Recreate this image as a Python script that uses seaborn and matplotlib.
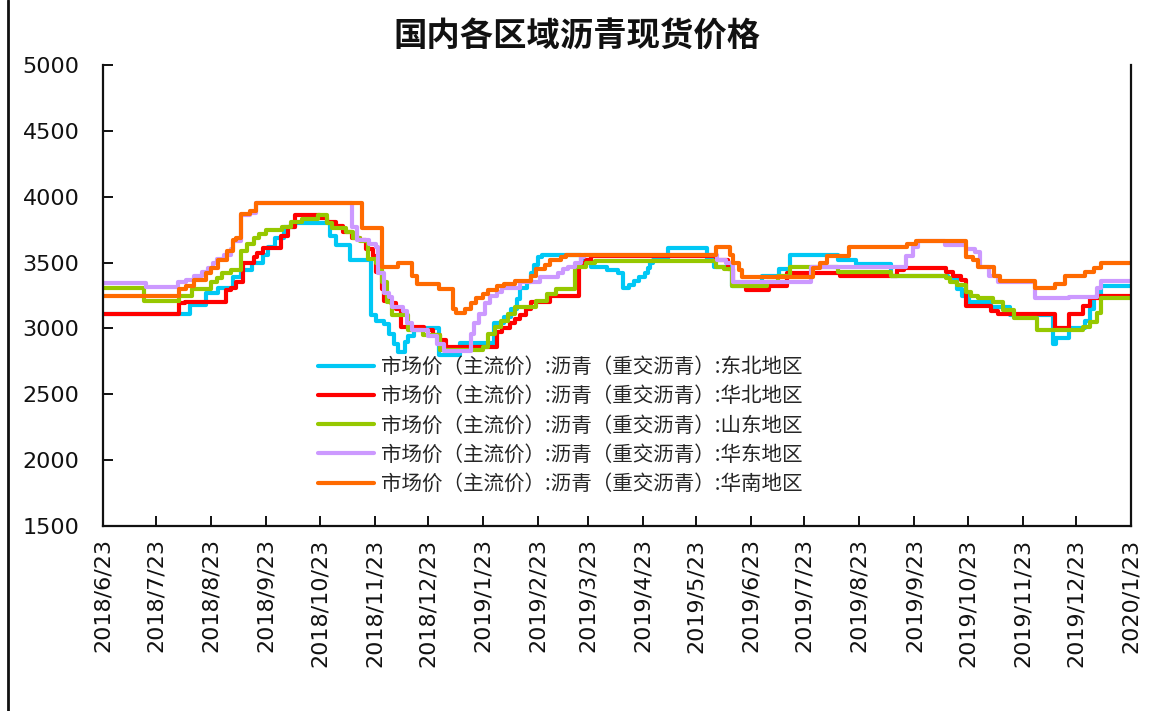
import matplotlib
matplotlib.use("Agg")
import matplotlib.pyplot as plt
import matplotlib.dates as mdates
from matplotlib.ticker import FuncFormatter
from matplotlib.lines import Line2D
import pandas as pd
import seaborn as sns

# ---------------- data ----------------
TITLE = "国内各区域沥青现货价格"
LABEL_PREFIX = "市场价（主流价）:沥青（重交沥青）:"
REGIONS = ["东北地区", "华北地区", "山东地区", "华东地区", "华南地区"]
COLORS = ["#00C8F5", "#FF0000", "#96C800", "#CC99FF", "#FF6A00"]
START_DATE = "2018-06-23"
END_DATE = "2020-01-23"
Y_TICKS = [1500, 2000, 2500, 3000, 3500, 4000, 4500, 5000]

# price change dates and the price from that date on (yuan/ton)
ne_dates = ["2018-06-23", "2018-08-11", "2018-08-20", "2018-08-27", "2018-09-04", "2018-09-09",
            "2018-09-15", "2018-09-21", "2018-09-24", "2018-09-28", "2018-10-03", "2018-10-09",
            "2018-10-29", "2018-11-01", "2018-11-09", "2018-11-21", "2018-11-24", "2018-11-28",
            "2018-12-01", "2018-12-04", "2018-12-06", "2018-12-10", "2018-12-12", "2018-12-15",
            "2018-12-29", "2019-01-10", "2019-01-29", "2019-02-04", "2019-02-08", "2019-02-11",
            "2019-02-13", "2019-02-17", "2019-02-19", "2019-02-21", "2019-02-23", "2019-02-25",
            "2019-03-19", "2019-03-25", "2019-04-03", "2019-04-09", "2019-04-12", "2019-04-15",
            "2019-04-18", "2019-04-21", "2019-04-24", "2019-04-26", "2019-04-27", "2019-04-29",
            "2019-05-07", "2019-05-29", "2019-06-02", "2019-06-12", "2019-06-29", "2019-07-09",
            "2019-07-15", "2019-08-11", "2019-08-21", "2019-09-10", "2019-10-12", "2019-10-17",
            "2019-10-20", "2019-10-24", "2019-11-05", "2019-11-16", "2019-12-10", "2019-12-12",
            "2019-12-19", "2019-12-28", "2019-12-31", "2020-01-02", "2020-01-06"]
ne_prices = [3110, 3180, 3270, 3310, 3390, 3440,
             3500, 3560, 3620, 3690, 3770, 3800,
             3700, 3630, 3520, 3100, 3060, 3030,
             2960, 2880, 2820, 2900, 2940, 3000,
             2800, 2890, 3040, 3090, 3150, 3220,
             3310, 3350, 3420, 3480, 3540, 3560,
             3520, 3470, 3440, 3420, 3310, 3330,
             3360, 3390, 3420, 3460, 3500, 3520,
             3610, 3530, 3470, 3320, 3400, 3450,
             3560, 3520, 3490, 3400, 3380, 3300,
             3250, 3200, 3160, 3100, 2880, 2930,
             3000, 3060, 3150, 3240, 3320]

nc_dates = ["2018-06-23", "2018-08-05", "2018-08-08", "2018-08-31", "2018-09-03", "2018-09-06",
            "2018-09-10", "2018-09-16", "2018-09-18", "2018-09-21", "2018-10-01", "2018-10-05",
            "2018-10-09", "2018-10-23", "2018-10-27", "2018-11-01", "2018-11-05", "2018-11-10",
            "2018-11-15", "2018-11-18", "2018-11-22", "2018-11-24", "2018-11-27", "2018-11-28",
            "2018-12-02", "2018-12-05", "2018-12-08", "2018-12-21", "2018-12-26", "2018-12-30",
            "2019-01-02", "2019-01-31", "2019-02-03", "2019-02-07", "2019-02-10", "2019-02-13",
            "2019-02-16", "2019-02-19", "2019-03-02", "2019-03-18", "2019-03-22", "2019-03-25",
            "2019-06-03", "2019-06-10", "2019-06-13", "2019-06-20", "2019-07-03", "2019-07-13",
            "2019-08-12", "2019-09-13", "2019-09-17", "2019-10-11", "2019-10-15", "2019-10-19",
            "2019-10-22", "2019-11-05", "2019-11-09", "2019-12-11", "2019-12-19", "2019-12-27",
            "2019-12-31", "2020-01-05"]
nc_prices = [3110, 3190, 3200, 3290, 3310, 3350,
             3500, 3540, 3570, 3610, 3700, 3770,
             3860, 3840, 3810, 3780, 3730, 3690,
             3670, 3600, 3550, 3430, 3300, 3210,
             3190, 3150, 3010, 2990, 2950, 2910,
             2860, 2970, 3000, 3040, 3070, 3100,
             3150, 3200, 3250, 3500, 3520, 3550,
             3520, 3450, 3330, 3290, 3320, 3420,
             3400, 3440, 3460, 3430, 3400, 3370,
             3170, 3130, 3110, 3000, 3110, 3170,
             3230, 3250]

sd_dates = ["2018-06-23", "2018-07-16", "2018-08-05", "2018-08-12", "2018-08-23", "2018-08-26",
            "2018-08-29", "2018-09-03", "2018-09-09", "2018-09-12", "2018-09-16", "2018-09-19",
            "2018-09-23", "2018-10-02", "2018-10-07", "2018-10-13", "2018-10-22", "2018-10-27",
            "2018-10-30", "2018-11-07", "2018-11-11", "2018-11-15", "2018-11-19", "2018-11-24",
            "2018-11-27", "2018-11-30", "2018-12-03", "2018-12-12", "2018-12-20", "2018-12-30",
            "2019-01-23", "2019-01-26", "2019-01-30", "2019-02-02", "2019-02-06", "2019-02-10",
            "2019-02-22", "2019-02-28", "2019-03-05", "2019-03-16", "2019-03-22", "2019-03-27",
            "2019-06-03", "2019-06-08", "2019-06-12", "2019-07-02", "2019-07-08", "2019-07-15",
            "2019-08-11", "2019-09-10", "2019-10-11", "2019-10-13", "2019-10-17", "2019-10-22",
            "2019-10-25", "2019-10-29", "2019-11-06", "2019-11-12", "2019-11-18", "2019-12-01",
            "2019-12-27", "2019-12-31", "2020-01-04", "2020-01-06"]
sd_prices = [3310, 3210, 3250, 3300, 3350, 3380,
             3420, 3440, 3590, 3640, 3690, 3720,
             3750, 3770, 3810, 3830, 3860, 3800,
             3760, 3730, 3690, 3660, 3530, 3500,
             3350, 3200, 3100, 2990, 2950, 2840,
             2860, 2960, 3010, 3060, 3110, 3160,
             3210, 3260, 3300, 3470, 3500, 3510,
             3470, 3450, 3320, 3350, 3400, 3470,
             3430, 3400, 3380, 3350, 3330, 3280,
             3250, 3230, 3200, 3140, 3080, 2990,
             3010, 3050, 3120, 3230]

ec_dates = ["2018-06-23", "2018-07-17", "2018-08-04", "2018-08-09", "2018-08-13", "2018-08-18",
            "2018-08-21", "2018-08-24", "2018-08-26", "2018-08-30", "2018-09-03", "2018-09-04",
            "2018-09-09", "2018-09-14", "2018-09-17", "2018-11-10", "2018-11-13", "2018-11-20",
            "2018-11-24", "2018-11-25", "2018-11-28", "2018-12-01", "2018-12-03", "2018-12-09",
            "2018-12-11", "2018-12-14", "2018-12-23", "2018-12-28", "2019-01-01", "2019-01-16",
            "2019-01-18", "2019-01-21", "2019-01-24", "2019-01-27", "2019-01-31", "2019-02-03",
            "2019-02-13", "2019-02-24", "2019-03-06", "2019-03-09", "2019-03-12", "2019-03-16",
            "2019-03-19", "2019-03-21", "2019-06-04", "2019-06-09", "2019-06-13", "2019-07-27",
            "2019-09-18", "2019-09-22", "2019-09-25", "2019-10-10", "2019-10-22", "2019-10-27",
            "2019-10-30", "2019-11-04", "2019-11-09", "2019-11-30", "2019-12-19", "2020-01-04",
            "2020-01-06"]
ec_prices = [3345, 3315, 3350, 3370, 3400, 3430,
             3460, 3500, 3530, 3560, 3600, 3660,
             3860, 3880, 3950, 3770, 3670, 3640,
             3620, 3420, 3270, 3240, 3160, 3130,
             3040, 2990, 2940, 2880, 2830, 2960,
             3040, 3110, 3190, 3250, 3280, 3310,
             3350, 3390, 3420, 3450, 3470, 3500,
             3545, 3560, 3520, 3500, 3350, 3470,
             3550, 3620, 3660, 3630, 3600, 3580,
             3470, 3400, 3350, 3230, 3240, 3310,
             3360]

sc_dates = ["2018-06-23", "2018-08-05", "2018-08-09", "2018-08-13", "2018-08-20", "2018-08-23",
            "2018-08-27", "2018-09-01", "2018-09-04", "2018-09-06", "2018-09-09", "2018-09-14",
            "2018-09-17", "2018-11-16", "2018-11-27", "2018-12-06", "2018-12-14", "2018-12-17",
            "2018-12-29", "2019-01-06", "2019-01-08", "2019-01-13", "2019-01-16", "2019-01-19",
            "2019-01-23", "2019-01-26", "2019-01-31", "2019-02-04", "2019-02-10", "2019-02-19",
            "2019-02-22", "2019-02-27", "2019-03-02", "2019-03-08", "2019-03-11", "2019-06-03",
            "2019-06-11", "2019-06-13", "2019-06-16", "2019-06-18", "2019-07-28", "2019-08-01",
            "2019-08-05", "2019-08-17", "2019-09-19", "2019-09-24", "2019-10-22", "2019-10-26",
            "2019-10-29", "2019-11-07", "2019-11-10", "2019-11-30", "2019-12-11", "2019-12-17",
            "2019-12-28", "2020-01-02", "2020-01-06"]
sc_prices = [3250, 3300, 3320, 3370, 3420, 3460,
             3520, 3590, 3670, 3690, 3870, 3890,
             3950, 3760, 3470, 3500, 3400, 3340,
             3300, 3150, 3120, 3150, 3190, 3230,
             3260, 3290, 3320, 3340, 3360, 3400,
             3450, 3480, 3520, 3545, 3560, 3620,
             3560, 3500, 3440, 3390, 3460, 3500,
             3550, 3620, 3640, 3660, 3540, 3520,
             3470, 3400, 3360, 3310, 3340, 3400,
             3430, 3460, 3500]

SERIES_DATES = [ne_dates, nc_dates, sd_dates, ec_dates, sc_dates]
SERIES_PRICES = [ne_prices, nc_prices, sd_prices, ec_prices, sc_prices]

# ---------------- long table ----------------
labels = [LABEL_PREFIX + r for r in REGIONS]
frames = []
for lab, dts, prs in zip(labels, SERIES_DATES, SERIES_PRICES):
    # hold the last quoted price until the end of the range
    frames.append(pd.DataFrame({
        "date": pd.to_datetime(list(dts) + [END_DATE]),
        "price": list(prs) + [prs[-1]],
        "series": lab,
    }))
df = pd.concat(frames, ignore_index=True)

# ---------------- drawing ----------------
sns.set_style("white")
plt.rcParams["font.family"] = ["Noto Sans CJK SC", "DejaVu Sans"]

fig = plt.figure(figsize=(11.55, 7.11), dpi=100)
ax = fig.add_axes([103 / 1155, 1 - 526 / 711, (1131 - 103) / 1155, (526 - 65) / 711])

sns.lineplot(data=df, x="date", y="price", hue="series", hue_order=labels,
             palette=COLORS, estimator=None, sort=False, drawstyle="steps-post",
             linewidth=3.0, legend=False, ax=ax)

ax.set_xlim(pd.Timestamp(START_DATE), pd.Timestamp(END_DATE))
ax.set_ylim(Y_TICKS[0], Y_TICKS[-1])
ax.set_yticks(Y_TICKS)
ax.xaxis.set_major_locator(mdates.MonthLocator(bymonthday=23))


def fmt_date(v, pos):
    d = mdates.num2date(v)
    return f"{d.year}/{d.month}/{d.day}"


ax.xaxis.set_major_formatter(FuncFormatter(fmt_date))
ax.set_xlabel("")
ax.set_ylabel("")

for side in ["left", "bottom", "right"]:
    ax.spines[side].set_visible(True)
    ax.spines[side].set_color("#111111")
    ax.spines[side].set_linewidth(1.6)
ax.spines["top"].set_visible(False)

ax.tick_params(axis="y", direction="in", length=7, width=1.4, pad=17,
               labelsize=16, colors="#111111", left=True, right=False)
ax.tick_params(axis="x", direction="in", length=7, width=1.4, pad=9,
               labelsize=16, colors="#111111", bottom=True, labelrotation=90)
for t in ax.get_xticklabels() + ax.get_yticklabels():
    t.set_family("DejaVu Sans")
for t in ax.get_xticklabels():
    t.set_verticalalignment("top")
    t.set_horizontalalignment("center")

# legend inside the plot area
handles = ax.get_lines()[:len(labels)]
leg = ax.legend(handles, labels, loc="upper left",
                bbox_to_anchor=(318 / 1155, 1 - 356 / 711), bbox_transform=fig.transFigure,
                frameon=False, fontsize=14.8, handlelength=2.7, handletextpad=0.35,
                labelspacing=0.35, borderpad=0, borderaxespad=0)
for line in leg.get_lines():
    line.set_linewidth(3.0)

fig.text(0.5, 1 - 37 / 711, TITLE, ha="center", va="center",
         fontsize=24, fontweight="bold", color="#111111")

# outer frame edge on the left
fig.add_artist(Line2D([8 / 1155, 8 / 1155], [0, 1], transform=fig.transFigure,
                      color="#111111", linewidth=2))

fig.savefig("out.png", dpi=100, facecolor="white")
